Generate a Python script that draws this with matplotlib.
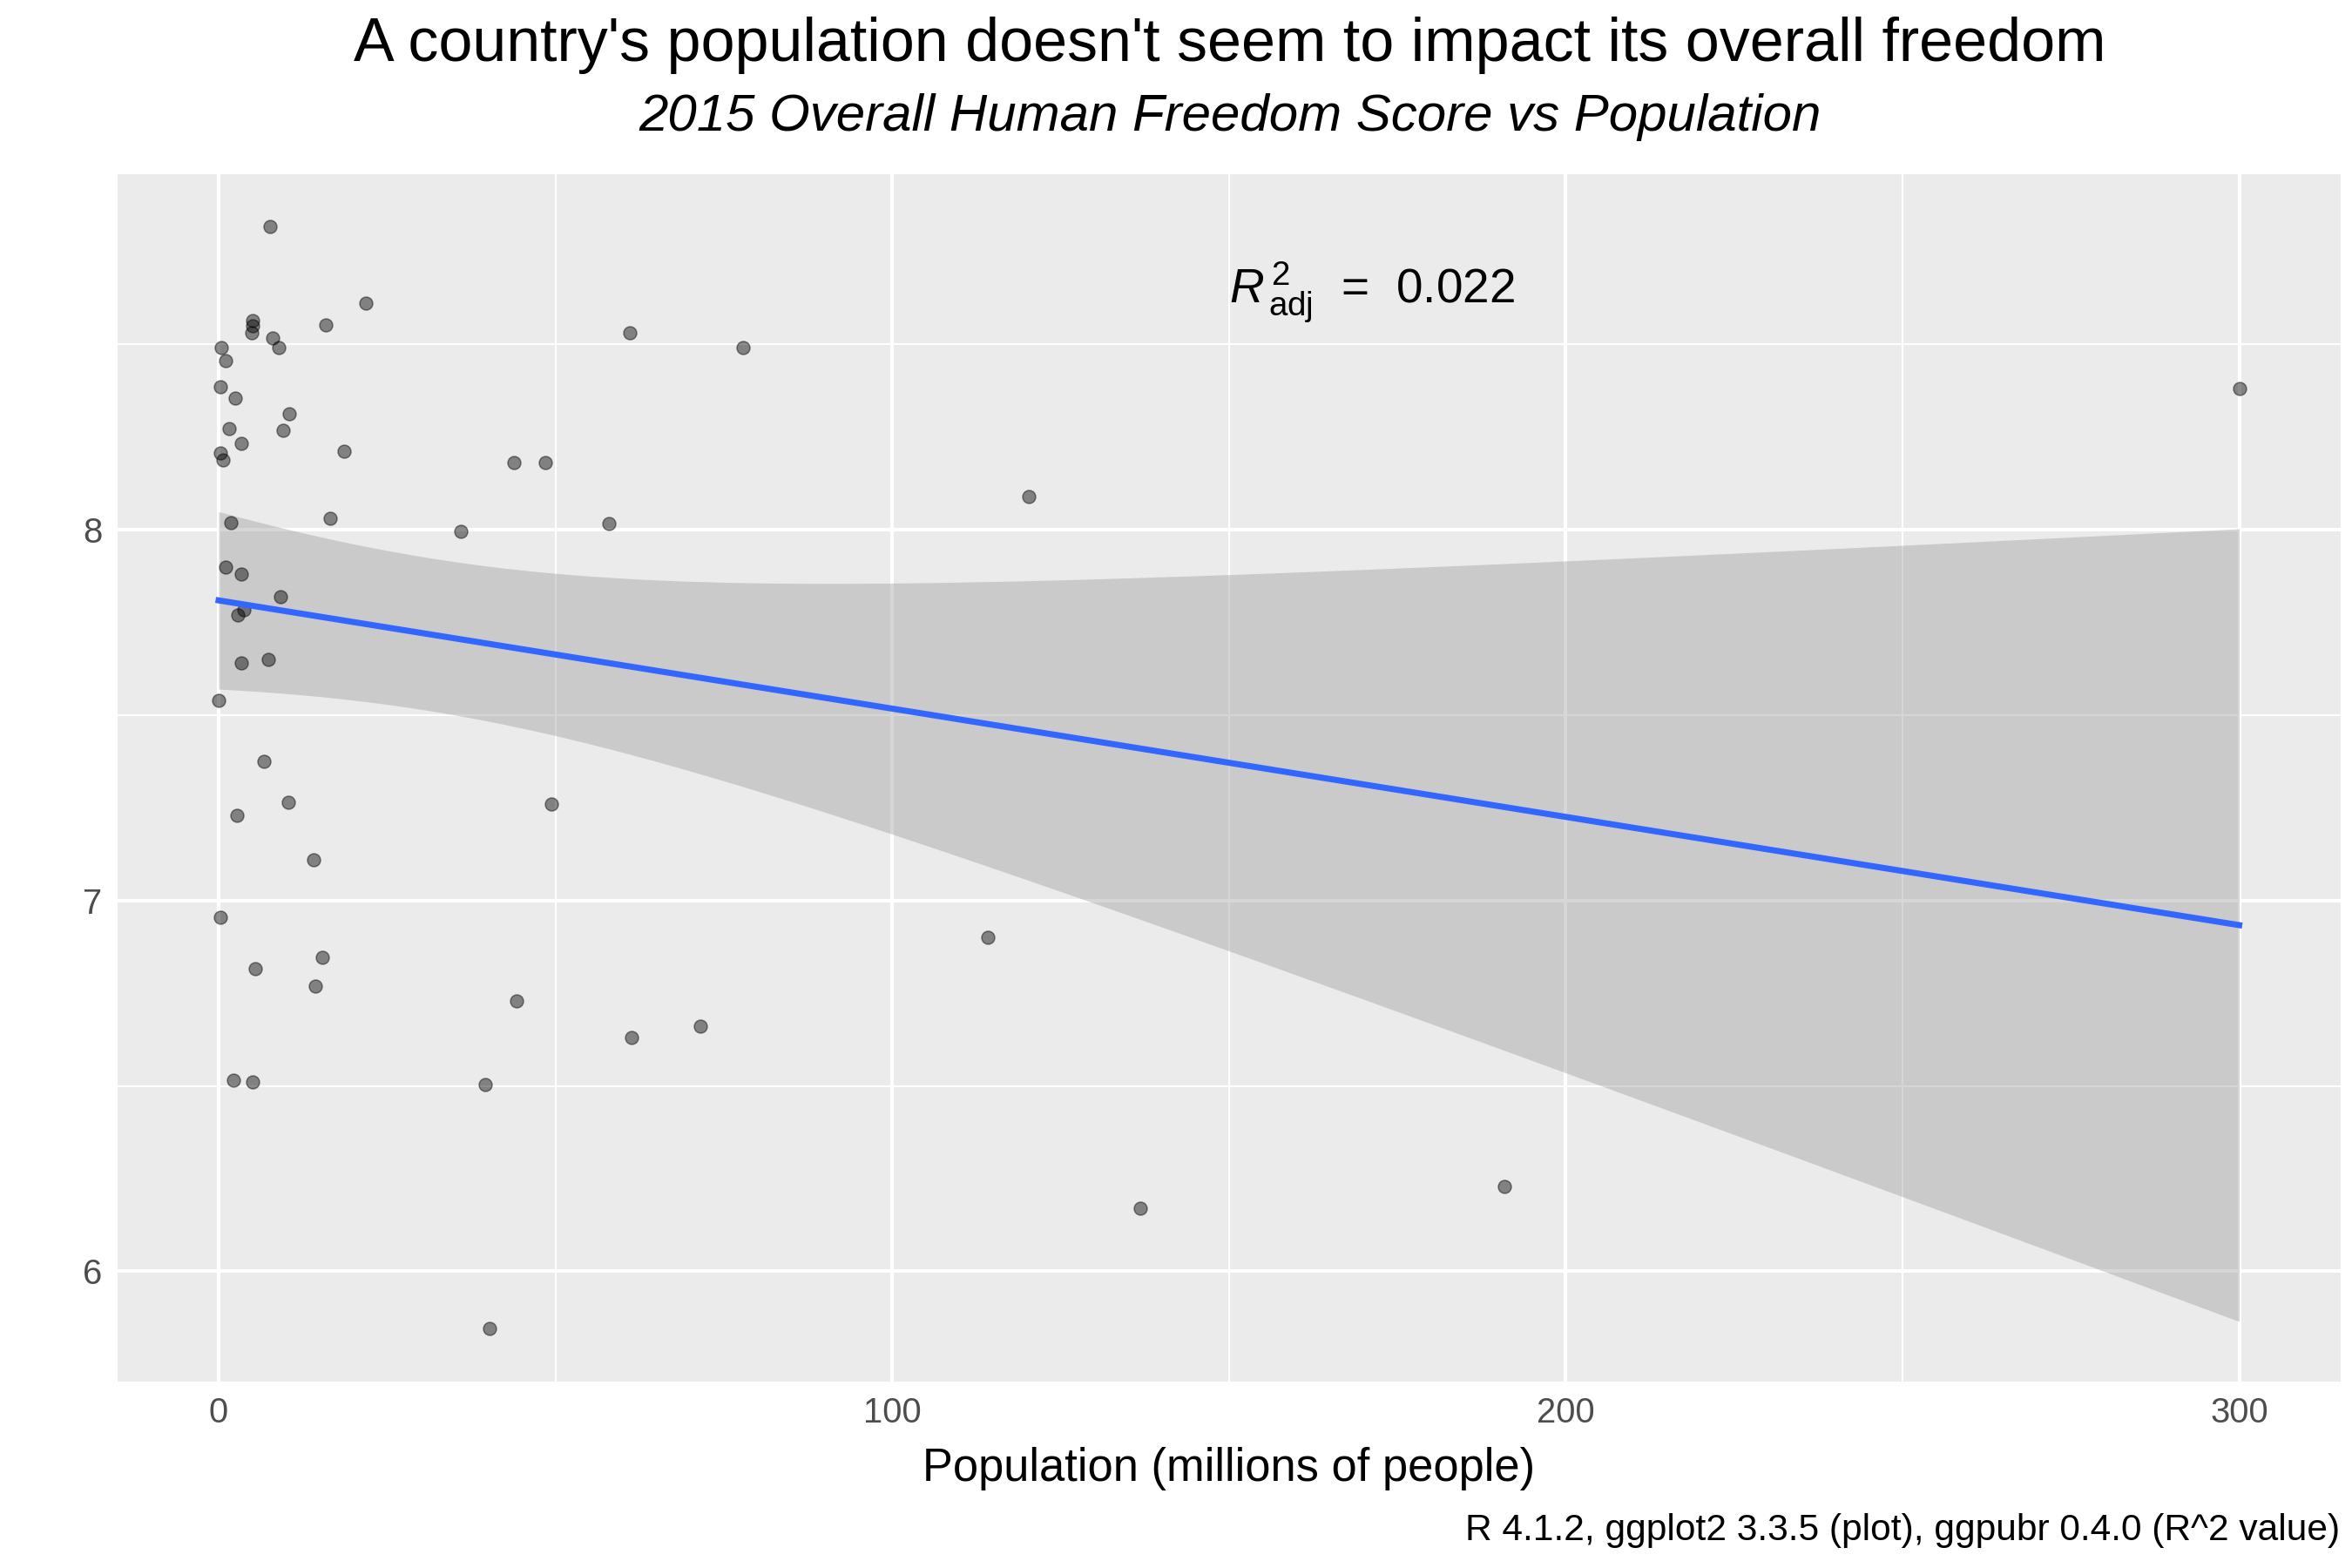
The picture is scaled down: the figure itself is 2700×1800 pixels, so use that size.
import numpy as np
import matplotlib
matplotlib.use("Agg")
import matplotlib.pyplot as plt

pop = [7.6,21.9,5.1,5.1,4.9,8.0,8.9,0.4,1.1,0.2,2.5,10.5,1.6,9.6,3.4,18.6,0.2,0.7,15.9,61.0,77.8,43.8,48.5,120.3,300,
       16.5,36.0,57.9,1.8,1.1,3.4,9.2,3.8,2.9,3.4,7.4,0.0,6.7,10.3,49.4,2.7,14.1,0.2,114.2,15.4,5.4,14.3,44.3,71.5,61.3,
       2.2,5.1,39.6,190.9,136.8,40.2]
score = [8.817,8.61,8.565,8.55,8.53,8.516,8.49,8.49,8.455,8.386,8.354,8.313,8.272,8.268,8.232,8.211,8.207,8.187,8.553,8.53,
         8.49,8.18,8.18,8.09,8.38,8.03,7.996,8.016,8.02,7.90,7.88,7.82,7.785,7.77,7.64,7.65,7.54,7.374,7.264,7.26,7.23,7.11,
         6.955,6.90,6.846,6.817,6.77,6.73,6.66,6.63,6.516,6.51,6.504,6.228,6.171,5.846]

plt.rcParams['font.family'] = ['Liberation Sans', 'DejaVu Sans']
plt.rcParams['mathtext.fontset'] = 'custom'
plt.rcParams['mathtext.rm'] = 'Liberation Sans'
plt.rcParams['mathtext.it'] = 'Liberation Sans:italic'
x = np.array(pop); y = np.array(score)
n = len(x)
b, a = np.polyfit(x, y, 1)
xs = np.linspace(x.min(), x.max(), 200)
ys = a + b*xs
res = y - (a + b*x)
s = np.sqrt(np.sum(res**2)/(n-2))
se = s*np.sqrt(1/n + (xs-x.mean())**2/np.sum((x-x.mean())**2))
t = 2.005

fig = plt.figure(figsize=(15, 10), dpi=180)
ax = fig.add_axes([0.05, 0.119, 0.945, 0.77])
ax.set_facecolor('#EBEBEB')
for sp in ax.spines.values(): sp.set_visible(False)
ax.set_xlim(-15, 315); ax.set_ylim(5.703, 8.959)
ax.set_xticks([0, 100, 200, 300]); ax.set_yticks([6, 7, 8])
ax.set_xticks([50, 150, 250], minor=True); ax.set_yticks([6.5, 7.5, 8.5], minor=True)
ax.grid(True, which='major', color='white', lw=1.6)
ax.grid(True, which='minor', color='white', lw=0.8)
ax.set_axisbelow(True)
ax.tick_params(which='both', length=0, labelsize=16, colors='#4D4D4D', pad=7)
ax.tick_params(which='minor', labelbottom=False, labelleft=False)

ax.fill_between(xs, ys - t*se, ys + t*se, color='#999999', alpha=0.4, lw=0, zorder=2)
ax.scatter(x, y, s=36, color='black', alpha=0.45, lw=0.6, edgecolor='black', zorder=3)
ax.plot(xs, ys, color='#3366FF', lw=2.8, zorder=4)
ax.text(150, 8.64, r'$R^{\,2}_{\,\mathrm{adj}}$  =  0.022', fontsize=22, va='center', ha='left')

ax.set_xlabel('Population (millions of people)', fontsize=21, labelpad=8)
fig.text(0.523, 0.971, "A country's population doesn't seem to impact its overall freedom", ha='center', va='center', fontsize=28)
fig.text(0.523, 0.925, "2015 Overall Human Freedom Score vs Population", ha='center', va='center', fontsize=24, style='italic')
fig.text(0.995, 0.024, "R 4.1.2, ggplot2 3.3.5 (plot), ggpubr 0.4.0 (R^2 value)", ha='right', va='center', fontsize=17)
fig.savefig('out.png', dpi=180)
